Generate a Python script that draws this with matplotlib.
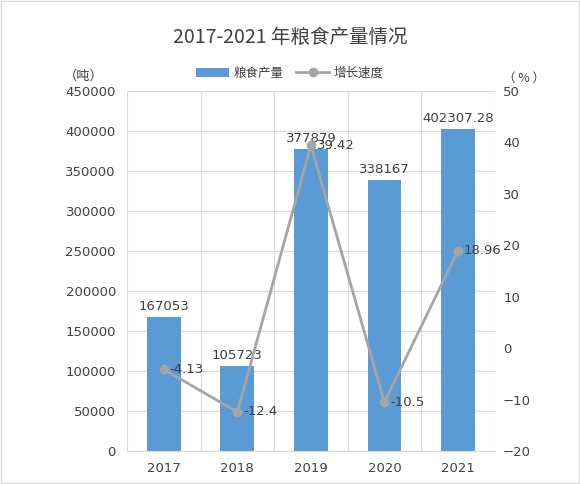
import numpy as np
import matplotlib.pyplot as plt

plt.rcParams['font.family'] = ['Noto Sans CJK SC', 'DejaVu Sans']

years = ['2017', '2018', '2019', '2020', '2021']
output = [167053, 105723, 377879, 338167, 402307.28]
output_labels = ['167053', '105723', '377879', '338167', '402307.28']
growth = [-4.13, -12.4, 39.42, -10.5, 18.96]
growth_labels = ['-4.13', '-12.4', '39.42', '-10.5', '18.96']

txt = '#404040'
grid_c = '#D9D9D9'

fig = plt.figure(figsize=(5.8, 4.84), dpi=100)
ax = fig.add_axes([0.219, 0.068, 0.634, 0.744])
ax2 = ax.twinx()

x = np.arange(len(years))
ax.bar(x, output, width=0.46, color='#5B9BD5', zorder=2, label='粮食产量')
for xi, v, s in zip(x, output, output_labels):
    ax.text(xi, v + 5000, s, ha='center', va='bottom', fontsize=9.5,
            color=txt, family='DejaVu Sans', zorder=5)

ax.set_xlim(-0.5, 4.5)
ax.set_ylim(0, 450000)
ax.set_yticks(np.arange(0, 450001, 50000))
ax.set_xticks(x)
ax.set_xticklabels(years)
ax.set_xticks(np.arange(-0.5, 5, 1), minor=True)
ax.grid(True, axis='y', color=grid_c, lw=0.8, zorder=0)
ax.grid(True, axis='x', which='minor', color=grid_c, lw=0.8, zorder=0)
ax.tick_params(axis='x', which='both', length=0, pad=8)
ax.tick_params(axis='y', length=0, pad=8)
for lab in ax.get_xticklabels() + ax.get_yticklabels():
    lab.set_family('DejaVu Sans')
    lab.set_fontsize(9.5)
    lab.set_color(txt)

ax2.plot(x, growth, color='#A5A5A5', lw=2, marker='o', ms=6, zorder=4,
         label='增长速度')
for xi, v, s in zip(x, growth, growth_labels):
    ax2.text(xi + 0.08, v, s, ha='left', va='center', fontsize=9.5,
             color=txt, family='DejaVu Sans', zorder=5)
ax2.set_ylim(-20, 50)
ax2.set_yticks(np.arange(-20, 51, 10))
ax2.tick_params(axis='y', length=0, pad=6)
for lab in ax2.get_yticklabels():
    lab.set_family('DejaVu Sans')
    lab.set_fontsize(9.5)
    lab.set_color(txt)

for a in (ax, ax2):
    for sp in a.spines.values():
        sp.set_visible(False)
ax.spines['bottom'].set_visible(True)
ax.spines['bottom'].set_color(grid_c)

fig.text(0.5, 0.922, '2017-2021 年粮食产量情况', ha='center', va='center',
         fontsize=14, color=txt)
fig.text(0.145, 0.843, '（吨）', ha='center', va='center', fontsize=9.5, color=txt)
fig.text(0.904, 0.839, '（ % ）', ha='center', va='center', fontsize=9, color=txt)

h1, l1 = ax.get_legend_handles_labels()
h2, l2 = ax2.get_legend_handles_labels()
fig.legend(h1 + h2, l1 + l2, loc='center', bbox_to_anchor=(0.5, 0.849),
           ncol=2, frameon=False, fontsize=9, handlelength=2.6,
           columnspacing=1.0, handletextpad=0.4, labelcolor=txt)

fig.patches.append(plt.Rectangle((0.002, 0.002), 0.996, 0.996,
                                 transform=fig.transFigure, fill=False,
                                 edgecolor='#D9D9D9', lw=1))

fig.savefig('out.png', dpi=100)
